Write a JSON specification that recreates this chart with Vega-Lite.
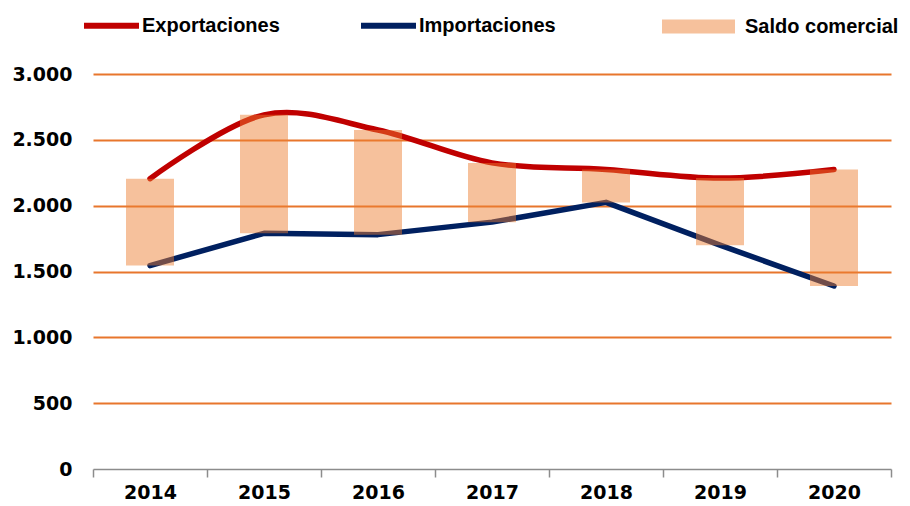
{
  "$schema": "https://vega.github.io/schema/vega-lite/v6.json",
  "width": 798,
  "height": 395,
  "autosize": {"type": "none"},
  "padding": {"left": 93, "top": 74, "right": 19, "bottom": 37},
  "background": "white",
  "config": {
    "view": {"stroke": null},
    "font": "Liberation Sans"
  },
  "data": {
    "values": [
      {"year": "2014", "Exportaciones": 2205, "Importaciones": 1545},
      {"year": "2015", "Exportaciones": 2690, "Importaciones": 1790},
      {"year": "2016", "Exportaciones": 2575, "Importaciones": 1780},
      {"year": "2017", "Exportaciones": 2325, "Importaciones": 1875},
      {"year": "2018", "Exportaciones": 2275, "Importaciones": 2025},
      {"year": "2019", "Exportaciones": 2210, "Importaciones": 1700},
      {"year": "2020", "Exportaciones": 2275, "Importaciones": 1390}
    ]
  },
  "encoding": {
    "x": {
      "field": "year",
      "type": "ordinal",
      "scale": {"paddingInner": 0, "paddingOuter": 0},
      "axis": {
        "title": null,
        "labelAngle": 0,
        "grid": false,
        "domainColor": "#8c8c8c",
        "domainWidth": 1.5,
        "tickColor": "#8c8c8c",
        "tickWidth": 1.5,
        "tickSize": 8,
        "tickBand": "extent",
        "labelFont": "DejaVu Sans",
        "labelFontWeight": "bold",
        "labelFontSize": 19,
        "labelColor": "black",
        "labelPadding": 6,
        "labelDx": -2
      }
    }
  },
  "layer": [
    {
      "transform": [
        {"fold": ["Exportaciones", "Importaciones"], "as": ["serie", "valor"]},
        {"filter": "datum.serie === 'Importaciones'"}
      ],
      "mark": {"type": "line", "strokeWidth": 5.5, "strokeCap": "round", "strokeJoin": "round"},
      "encoding": {
        "y": {
          "field": "valor",
          "type": "quantitative",
          "scale": {"domain": [0, 3000]},
          "title": null,
          "axis": {
            "title": null,
            "values": [0, 500, 1000, 1500, 2000, 2500, 3000],
            "grid": true,
            "gridColor": {"condition": {"test": "datum.value === 0", "value": "transparent"}, "value": "#E8762C"},
            "gridWidth": 1.8,
            "domain": false,
            "ticks": false,
            "labelFont": "DejaVu Sans",
            "labelFontWeight": "bold",
            "labelFontSize": 19,
            "labelColor": "black",
            "labelPadding": 21,
            "labelExpr": "replace(format(datum.value, ','), ',', '.')"
          }
        },
        "stroke": {
          "field": "serie",
          "type": "nominal",
          "scale": {"domain": ["Exportaciones", "Importaciones"], "range": ["#C00000", "#002060"]},
          "legend": {
            "title": null,
            "orient": "none",
            "legendX": -12,
            "legendY": -79,
            "direction": "horizontal",
            "symbolType": "stroke",
            "symbolSize": 3025,
            "symbolStrokeWidth": 6,
            "labelFont": "Liberation Sans",
            "labelFontSize": 20,
            "labelFontWeight": "bold",
            "labelColor": "black",
            "labelOffset": 0,
            "labelLimit": 300,
            "columnPadding": 69
          }
        }
      }
    },
    {
      "transform": [
        {"fold": ["Exportaciones", "Importaciones"], "as": ["serie", "valor"]},
        {"filter": "datum.serie === 'Exportaciones'"}
      ],
      "mark": {"type": "line", "strokeWidth": 5.5, "strokeCap": "round", "interpolate": "cardinal"},
      "encoding": {
        "y": {"field": "valor", "type": "quantitative", "title": null},
        "stroke": {"field": "serie", "type": "nominal"}
      }
    },
    {
      "mark": {"type": "bar", "size": 48, "opacity": 0.48},
      "encoding": {
        "y": {"field": "Exportaciones", "type": "quantitative", "title": null},
        "y2": {"field": "Importaciones"},
        "fill": {
          "datum": "Saldo comercial",
          "scale": {"range": ["#ED7D31"]},
          "legend": {
            "title": null,
            "orient": "none",
            "legendX": 569,
            "legendY": -84,
            "symbolType": "M-1,-0.19H1V0.19H-1Z",
            "symbolSize": 5329,
            "symbolStrokeWidth": 0,
            "symbolOpacity": 0.48,
            "labelFont": "Liberation Sans",
            "labelFontSize": 20,
            "labelFontWeight": "bold",
            "labelColor": "black",
            "labelOffset": 10,
            "labelLimit": 300
          }
        }
      }
    }
  ]
}
